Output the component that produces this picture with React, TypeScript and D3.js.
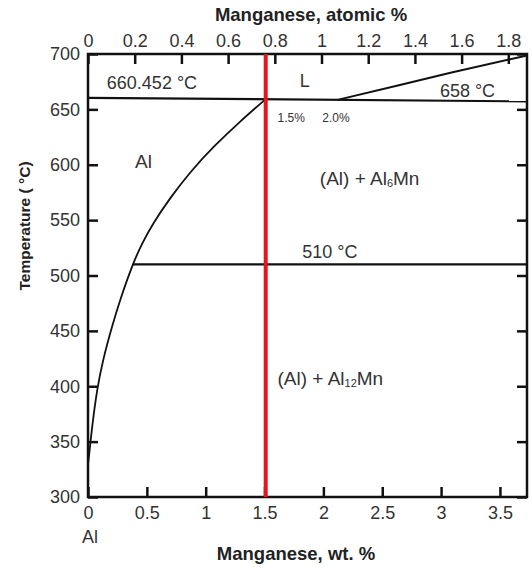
import * as d3 from "d3";
import React, { useEffect, useRef } from "react";

// axis ticks
const tempTicks = [300, 350, 400, 450, 500, 550, 600, 650, 700];
const wtTicks = [0, 0.5, 1, 1.5, 2, 2.5, 3, 3.5];
const atTicks = [0, 0.2, 0.4, 0.6, 0.8, 1, 1.2, 1.4, 1.6, 1.8];

// phase boundaries, [wt % Mn, temperature °C]
const solvus: [number, number][] = [
  [0.0, 330], [0.008, 336], [0.034, 363], [0.076, 397], [0.127, 424],
  [0.204, 454], [0.272, 478], [0.382, 511], [0.459, 529], [0.552, 547],
  [0.697, 570], [0.867, 593.4], [1.062, 616], [1.29, 639], [1.51, 659.3],
];
const liquidus: [number, number][] = [
  [2.12, 658.6], [2.65, 672], [3.08, 683], [3.73, 698.7],
];
const meltLine: [number, number][] = [[0, 660.452], [3.73, 657.2]];
const eutectoidLine: [number, number][] = [[0.382, 510], [3.73, 510]];
const alloyWt = 1.51; // red vertical line

const width = 532;
const height = 572;
const font = "'Liberation Sans', Arial, sans-serif";

export default function App() {
  const svgRef = useRef<SVGSVGElement>(null);

  useEffect(() => {
    if (!svgRef.current) return;
    const svg = d3.select(svgRef.current);
    svg.selectAll("*").remove();

    const x = d3.scaleLinear([0, 3.73], [88, 527]);
    const xTop = d3.scaleLinear([0, 1.88], [88, 527]);
    const y = d3.scaleLinear([300, 700], [497, 54]);
    const [x0, x1] = x.range();
    const [y0, y1] = y.range();

    const line = d3
      .line<[number, number]>()
      .x((d) => x(d[0]))
      .y((d) => y(d[1]));
    const curve = d3
      .line<[number, number]>()
      .x((d) => x(d[0]))
      .y((d) => y(d[1]))
      .curve(d3.curveBasis);

    svg.append("rect").attr("width", width).attr("height", height).attr("fill", "#fff");

    const styleAxis = (g: any) => {
      g.select(".domain").remove();
      g.selectAll(".tick line").attr("stroke", "#111").attr("stroke-width", 2.5);
      g.selectAll(".tick text")
        .attr("fill", "#333")
        .attr("font-size", 18)
        .attr("font-family", font);
    };

    svg
      .append("g")
      .attr("transform", `translate(${x0},0)`)
      .call(d3.axisLeft(y).tickValues(tempTicks).tickSizeInner(-10).tickSizeOuter(0).tickPadding(8))
      .call(styleAxis);
    svg
      .append("g")
      .attr("transform", `translate(${x1},0)`)
      .call(d3.axisRight(y).tickValues(tempTicks).tickSizeInner(-10).tickSizeOuter(0).tickFormat(() => ""))
      .call(styleAxis);
    svg
      .append("g")
      .attr("transform", `translate(0,${y0})`)
      .call(d3.axisBottom(x).tickValues(wtTicks).tickSizeInner(-10).tickSizeOuter(0).tickPadding(9).tickFormat(d3.format("")))
      .call(styleAxis);
    svg
      .append("g")
      .attr("transform", `translate(0,${y1})`)
      .call(d3.axisTop(xTop).tickValues(atTicks).tickSizeInner(-10).tickSizeOuter(0).tickPadding(7).tickFormat(d3.format("")))
      .call(styleAxis);

    // frame
    svg
      .append("rect")
      .attr("x", x0)
      .attr("y", y1)
      .attr("width", x1 - x0)
      .attr("height", y0 - y1)
      .attr("fill", "none")
      .attr("stroke", "#111")
      .attr("stroke-width", 2.5);

    // boundaries
    const lines = svg.append("g").attr("fill", "none").attr("stroke", "#111");
    lines.append("path").attr("d", line(meltLine)).attr("stroke-width", 2.2);
    lines.append("path").attr("d", line(eutectoidLine)).attr("stroke-width", 2.2);
    lines.append("path").attr("d", curve(solvus)).attr("stroke-width", 1.8);
    lines.append("path").attr("d", line(liquidus)).attr("stroke-width", 2);

    // alloy composition
    svg
      .append("line")
      .attr("x1", x(alloyWt))
      .attr("x2", x(alloyWt))
      .attr("y1", y1)
      .attr("y2", y0)
      .attr("stroke", "#e3161b")
      .attr("stroke-width", 4);

    // annotations
    const txt = (wt: number, t: number, s: string, size = 18) =>
      svg
        .append("text")
        .attr("x", x(wt))
        .attr("y", y(t))
        .attr("font-family", font)
        .attr("font-size", size)
        .attr("fill", "#333")
        .text(s);

    txt(0.16, 668.4, "660.452 °C");
    txt(1.8, 670, "L");
    txt(2.99, 661.2, "658 °C");
    txt(1.61, 638.6, "1.5%", 12);
    txt(1.99, 638.6, "2.0%", 12);
    txt(0.4, 597, "Al", 19);
    txt(1.82, 515.8, "510 °C");

    const phase = (wt: number, t: number, sub: string) => {
      const el = txt(wt, t, "(Al) + Al", 19);
      el.append("tspan").attr("font-size", 11).attr("dy", 2).text(sub);
      el.append("tspan").attr("dy", -2).text("Mn");
    };
    phase(1.97, 581.7, "6");
    phase(1.61, 401, "12");

    // axis titles
    const title = (s: string, tx: number, ty: number, rotate = false) =>
      svg
        .append("text")
        .attr("transform", `translate(${tx},${ty})${rotate ? " rotate(-90)" : ""}`)
        .attr("text-anchor", "middle")
        .attr("font-family", font)
        .attr("font-weight", "bold")
        .attr("font-size", rotate ? 15.5 : 18.5)
        .attr("fill", "#222")
        .text(s);

    title("Manganese, atomic %", 311, 21);
    title("Manganese, wt. %", 296, 560);
    title("Temperature ( °C)", 30, 226, true);

    svg
      .append("text")
      .attr("x", x(0) + 2)
      .attr("y", 543)
      .attr("text-anchor", "middle")
      .attr("font-family", font)
      .attr("font-size", 18)
      .attr("fill", "#333")
      .text("Al");
  }, []);

  return (
    <div style={{ position: "fixed", left: 0, top: 0 }}>
      <svg ref={svgRef} width={width} height={height} style={{ display: "block" }} />
    </div>
  );
}
